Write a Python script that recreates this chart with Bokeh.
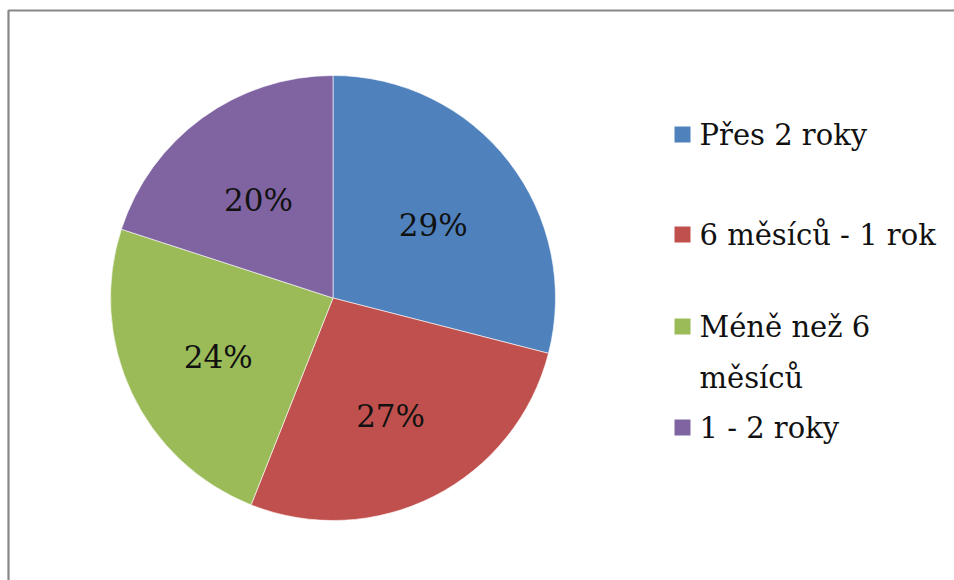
import math
from bokeh.plotting import figure
from bokeh.models import Range1d, ColumnDataSource
from bokeh.core.properties import value
from bokeh.embed import file_html
from bokeh.resources import INLINE

# Share of respondents by duration
categories = ["Přes 2 roky", "6 měsíců - 1 rok", "Méně než 6 měsíců", "1 - 2 roky"]
legend_labels = ["Přes 2 roky", "6 měsíců - 1 rok", "Méně než 6\nměsíců", "1 - 2 roky"]
shares = [29, 27, 24, 20]
colors = ["#4F81BD", "#C0504D", "#9BBB59", "#8064A2"]

W, H = 954, 580
FONT = value("DejaVu Serif")

p = figure(width=W, height=H, output_backend="svg", toolbar_location=None,
           x_range=Range1d(0, W), y_range=Range1d(0, H), min_border=0,
           background_fill_color="white", border_fill_color="white")
p.axis.visible = False
p.grid.visible = False
p.outline_line_color = None

# chart frame (top and left edges visible)
p.line(x=[8, 8, W + 5], y=[-5, H - 10, H - 10], line_color="#878787", line_width=2.2)

# pie geometry in pixel units (y measured upward)
cx, cy, r = 332.5, H - 297.5, 222.5
total = sum(shares)
starts, ends, lx, ly, labels = [], [], [], [], []
cum = 0.0
for s in shares:
    a0 = math.pi / 2 - 2 * math.pi * cum / total
    cum += s
    a1 = math.pi / 2 - 2 * math.pi * cum / total
    starts.append(a0)
    ends.append(a1)
    mid = (a0 + a1) / 2
    lx.append(cx + 0.57 * r * math.cos(mid))
    ly.append(cy + 0.57 * r * math.sin(mid) - 5)
    labels.append(f"{round(100 * s / total)}%")

src = ColumnDataSource(dict(start=starts, end=ends, color=colors, lx=lx, ly=ly, label=labels))
p.wedge(x=cx, y=cy, radius=r, start_angle="start", end_angle="end", direction="clock",
        fill_color="color", line_color="white", line_width=0.6, source=src)
p.text(x="lx", y="ly", text="label", source=src, text_font=FONT, text_font_size="31px",
       text_color="#111111", text_align="center", text_baseline="middle")

# legend drawn by hand: swatch + label per category
row_centers = [134, 234, 326, 427]
sw = 16
leg = ColumnDataSource(dict(
    sx=[682] * len(categories),
    sy=[H - c for c in row_centers],
    tx=[699] * len(categories),
    ty=[H - c + 17 for c in row_centers],
    color=colors,
    label=legend_labels,
))
p.rect(x="sx", y="sy", width=sw, height=sw, fill_color="color", line_color=None, source=leg)
p.text(x="tx", y="ty", text="label", source=leg, text_font=FONT, text_font_size="29px",
       text_color="#111111", text_align="left", text_baseline="top", text_line_height=1.5)

open("out.html", "w").write(file_html(p, INLINE))
